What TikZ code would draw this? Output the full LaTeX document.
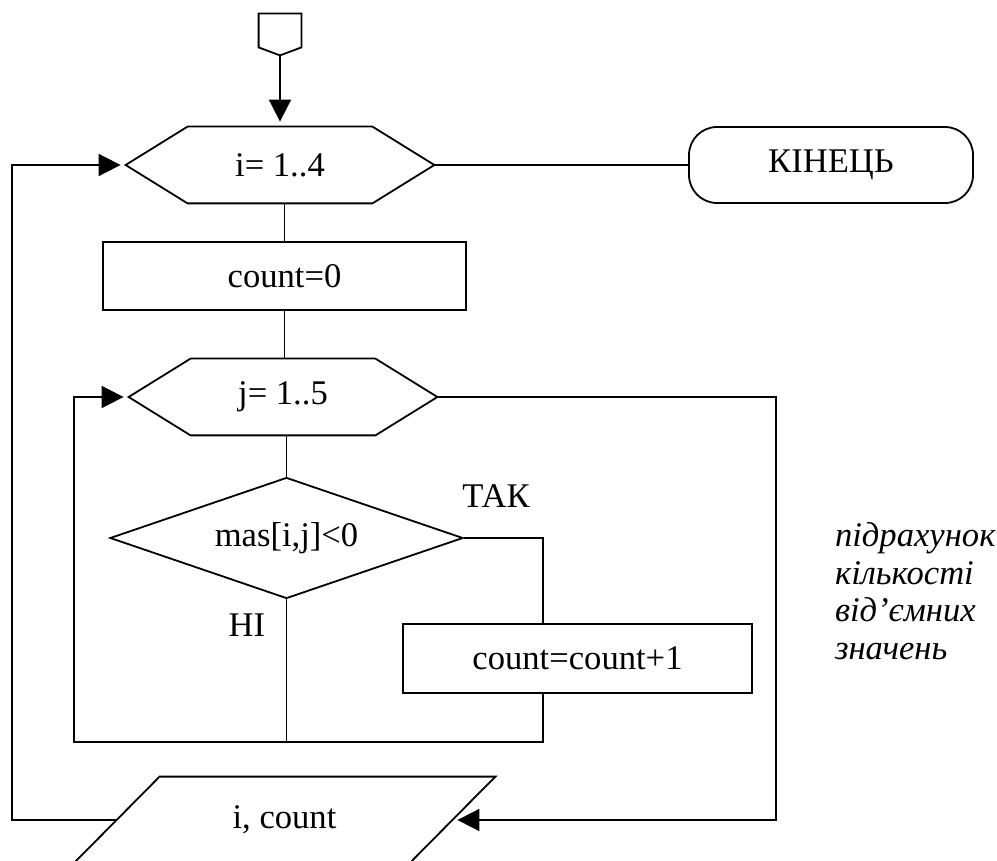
\documentclass[tikz,border=0pt]{standalone}
\usepackage{fontspec}
\setmainfont{Liberation Serif}
\usetikzlibrary{positioning,arrows.meta,shapes.geometric}
\tikzset{
  blok/.style={rectangle,draw,line width=0.9pt,inner sep=0pt,minimum height=34pt},
  tsykl/.style={rectangle,inner sep=0pt,minimum width=154pt,minimum height=38pt},
  umova/.style={diamond,aspect=2.9,draw,line width=0.9pt,inner sep=0pt,minimum width=176.5pt,minimum height=60.5pt},
  kinets/.style={rectangle,draw,line width=0.9pt,rounded corners=14pt,inner sep=0pt,minimum width=142pt,minimum height=38pt},
  vyvid/.style={rectangle,inner sep=0pt,minimum width=210.5pt,minimum height=43pt},
  pochatok/.style={rectangle,inner sep=0pt,minimum width=21pt,minimum height=16.5pt},
  hrana/.style={line width=0.9pt},
  strilka/.style={-{Triangle[length=11pt,width=11pt]},line width=0.9pt,shorten >=2.5pt},
}
\newcommand{\shestykut}[1]{\draw[hrana] (#1.west) -- ([xshift=31pt]#1.north west) -- ([xshift=-31pt]#1.north east)
  -- (#1.east) -- ([xshift=-31pt]#1.south east) -- ([xshift=31pt]#1.south west) -- cycle;}
\newcommand{\paralel}[1]{\draw[hrana] ([xshift=43pt]#1.north west) -- (#1.north east)
  -- ([xshift=-43pt]#1.south east) -- (#1.south west) -- cycle;}
\newcommand{\kutnyk}[1]{\draw[hrana] (#1.north west) -- (#1.north east) -- (#1.south east)
  -- ([yshift=-4pt]#1.south) -- (#1.south west) -- cycle;}
\begin{document}
\begin{tikzpicture}[x=0.5pt,y=-0.5pt,font=\fontsize{17.3}{20}\selectfont]
\useasboundingbox (0,0) rectangle (997,861);
\node[pochatok] (poch) at (280,30.5) {};
\kutnyk{poch}
\node[tsykl] (hI) at (280,165) {i= 1..4};
\shestykut{hI}
\node[kinets] (kin) at (831,165) {КІНЕЦЬ};
\node[blok,minimum width=181.5pt] (c0) at (284.5,276) {count=0};
\node[tsykl] (hJ) at (283,397) {j= 1..5};
\shestykut{hJ}
\node[umova] (um) at (286.5,538) {mas[i,j]<0};
\node[blok,minimum width=174.5pt,minimum height=34.5pt] (inc) at (577.5,658.5) {count=count+1};
\node[vyvid] (vyv) at (284.5,820) {i, count};
\paralel{vyv}
\node (tak) at (496,496) {ТАК};
\node (ni) at (247,625) {НІ};
\node[anchor=west,align=left,font=\fontsize{17.3}{18.8}\selectfont\itshape] (prym) at (828,591)
  {підрахунок\\кількості\\від’ємних\\значень};
\coordinate (tk) at (543,538);
\coordinate (vnutr) at (74,742);
\coordinate (prav) at (776,820);
\coordinate (zovn) at (12,820);
\draw[strilka] ([yshift=-4pt]poch.south) -- (hI.north);
\draw[hrana] (hI.east) -- (kin.west);
\draw[hrana] (c0.north |- hI.south) -- (c0.north);
\draw[hrana] (c0.south) -- (c0.south |- hJ.north);
\draw[hrana] (um.north |- hJ.south) -- (um.north);
\draw[hrana] (um.east) -- (tk) -- (tk |- inc.north);
\draw[hrana] (um.south) -- (um.south |- vnutr);
\draw[strilka] (tk |- inc.south) |- (vnutr) |- (hJ.west);
\draw[strilka] (hJ.east) -| (prav) -- ([xshift=-21.5pt]vyv.east);
\draw[strilka] ([xshift=21.5pt]vyv.west) -- (zovn) |- (hI.west);
\end{tikzpicture}
\end{document}
